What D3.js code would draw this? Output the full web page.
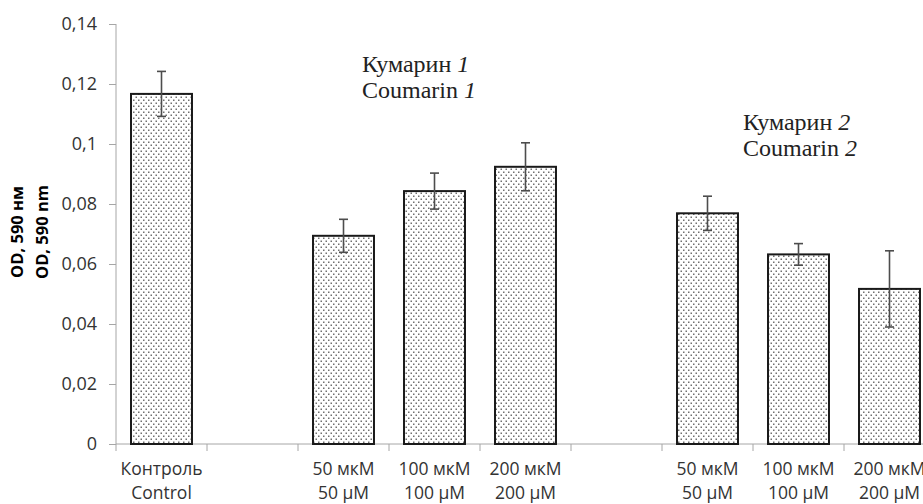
<!DOCTYPE html>
<html>
<head>
<meta charset="utf-8">
<script src="https://cdn.jsdelivr.net/npm/d3@7"></script>
<style>
  body { margin: 0; background: #fff; }
  svg { display: block; }
  .note { font-family: "Liberation Serif", "DejaVu Serif", serif; }
</style>
</head>
<body>
<svg id="chart" width="923" height="504"></svg>
<script>
// categorias (espaços vazios separam os grupos)
const slots = ["ctrl", "gap1", "c1_50", "c1_100", "c1_200", "gap2", "c2_50", "c2_100", "c2_200"];
const labelsRu = ["Контроль", "", "50 мкМ", "100 мкМ", "200 мкМ", "", "50 мкМ", "100 мкМ", "200 мкМ"];
const labelsEn = ["Control", "", "50 μM", "100 μM", "200 μM", "", "50 μM", "100 μM", "200 μM"];
const values = [0.1167, null, 0.0694, 0.0843, 0.0924, null, 0.0769, 0.0632, 0.0517];
const errors = [0.0075, null, 0.0055, 0.0060, 0.0080, null, 0.0057, 0.0036, 0.0127];
const yTicks = [0, 0.02, 0.04, 0.06, 0.08, 0.1, 0.12, 0.14];
const notesRu = ["Кумарин ", "Кумарин "];
const notesEn = ["Coumarin ", "Coumarin "];
const notesNum = ["1", "2"];

const svg = d3.select("#chart");
const plotLeft = 116, plotRight = 935, plotTop = 24, plotBottom = 444;

const x = d3.scaleBand()
    .domain(slots)
    .range([plotLeft, plotRight])
    .paddingInner(0.33)
    .paddingOuter(0.165);
const step = x.step();

const y = d3.scaleLinear().domain([0, 0.14]).range([plotBottom, plotTop]);

const locale = d3.formatLocale({ decimal: ",", thousands: " ", grouping: [3], currency: ["", ""] });
const fmt = locale.format("~g");

// padrão pontilhado das barras
const defs = svg.append("defs");
const pat = defs.append("pattern")
    .attr("id", "dots")
    .attr("patternUnits", "userSpaceOnUse")
    .attr("width", 5).attr("height", 6);
pat.append("rect").attr("width", 5).attr("height", 6).attr("fill", "#fff");
pat.append("rect").attr("x", 0.5).attr("y", 0.5).attr("width", 1.5).attr("height", 1.5).attr("fill", "#707070");
pat.append("rect").attr("x", 3).attr("y", 3.5).attr("width", 1.5).attr("height", 1.5).attr("fill", "#707070");

// eixo Y
const yAxis = svg.append("g")
    .attr("transform", `translate(${plotLeft},0)`)
    .attr("font-family", "Open Sans, sans-serif")
    .attr("font-size", 18)
    .call(d3.axisLeft(y).tickValues(yTicks).tickFormat(fmt).tickSize(7).tickPadding(12));
yAxis.attr("font-family", "Open Sans, sans-serif").attr("font-size", 18);
yAxis.select(".domain").attr("stroke", "#a6a6a6").attr("d", `M0,${plotTop}V${plotBottom + 7}`);
yAxis.selectAll(".tick line").attr("stroke", "#a6a6a6");
yAxis.selectAll(".tick text").attr("fill", "#333");

// eixo X (linha base e marcas entre categorias)
const xg = svg.append("g");
xg.append("line")
    .attr("x1", plotLeft).attr("x2", 923)
    .attr("y1", plotBottom).attr("y2", plotBottom)
    .attr("stroke", "#a6a6a6");
xg.selectAll(".xtick")
    .data(slots)
    .enter().append("line")
    .attr("class", "xtick")
    .attr("x1", d => x(d) - x.paddingInner() * step / 2 + step)
    .attr("x2", d => x(d) - x.paddingInner() * step / 2 + step)
    .attr("y1", plotBottom).attr("y2", plotBottom + 7)
    .attr("stroke", "#a6a6a6");

// barras
const data = slots.map((s, i) => ({ s, v: values[i], e: errors[i], ru: labelsRu[i], en: labelsEn[i] }));
const bars = data.filter(d => d.v !== null);

svg.selectAll(".bar")
    .data(bars)
    .enter().append("rect")
    .attr("class", "bar")
    .attr("x", d => x(d.s))
    .attr("y", d => y(d.v))
    .attr("width", x.bandwidth())
    .attr("height", d => y(0) - y(d.v))
    .attr("fill", "url(#dots)")
    .attr("stroke", "#1a1a1a")
    .attr("stroke-width", 2);

// barras de erro
const err = svg.selectAll(".err")
    .data(bars)
    .enter().append("g")
    .attr("class", "err")
    .attr("stroke", "#4d4d4d")
    .attr("stroke-width", 1.6);
err.append("line")
    .attr("x1", d => x(d.s) + x.bandwidth() / 2)
    .attr("x2", d => x(d.s) + x.bandwidth() / 2)
    .attr("y1", d => y(d.v + d.e))
    .attr("y2", d => y(d.v - d.e));
err.append("line")
    .attr("x1", d => x(d.s) + x.bandwidth() / 2 - 4.5)
    .attr("x2", d => x(d.s) + x.bandwidth() / 2 + 4.5)
    .attr("y1", d => y(d.v + d.e))
    .attr("y2", d => y(d.v + d.e));
err.append("line")
    .attr("x1", d => x(d.s) + x.bandwidth() / 2 - 4.5)
    .attr("x2", d => x(d.s) + x.bandwidth() / 2 + 4.5)
    .attr("y1", d => y(d.v - d.e))
    .attr("y2", d => y(d.v - d.e));

// rótulos das categorias
const lab = svg.selectAll(".xlab")
    .data(bars)
    .enter().append("text")
    .attr("class", "xlab")
    .attr("text-anchor", "middle")
    .attr("font-family", "Open Sans, sans-serif")
    .attr("font-size", 17.5)
    .attr("fill", "#333");
lab.append("tspan")
    .attr("x", d => x(d.s) + x.bandwidth() / 2)
    .attr("y", 475)
    .text(d => d.ru);
lab.append("tspan")
    .attr("x", d => x(d.s) + x.bandwidth() / 2)
    .attr("y", 499)
    .text(d => d.en);

// título do eixo Y
const yt = svg.append("text")
    .attr("transform", "translate(0,232) rotate(-90)")
    .attr("text-anchor", "middle")
    .attr("font-family", "Open Sans, sans-serif")
    .attr("font-weight", "bold")
    .attr("font-size", 16.5)
    .attr("fill", "#000");
yt.append("tspan").attr("x", 0).attr("y", 23).text("OD, 590 нм");
yt.append("tspan").attr("x", 0).attr("y", 48).text("OD, 590 nm");

// anotações dos grupos
const notePos = [[362, 72], [743, 130]];
notePos.forEach((p, i) => {
    const t = svg.append("text")
        .attr("class", "note")
        .attr("font-size", 24)
        .attr("fill", "#222");
    const l1 = t.append("tspan").attr("x", p[0]).attr("y", p[1]);
    l1.append("tspan").text(notesRu[i]);
    l1.append("tspan").attr("font-style", "italic").text(notesNum[i]);
    const l2 = t.append("tspan").attr("x", p[0]).attr("y", p[1] + 26);
    l2.append("tspan").text(notesEn[i]);
    l2.append("tspan").attr("font-style", "italic").text(notesNum[i]);
});
</script>
</body>
</html>
